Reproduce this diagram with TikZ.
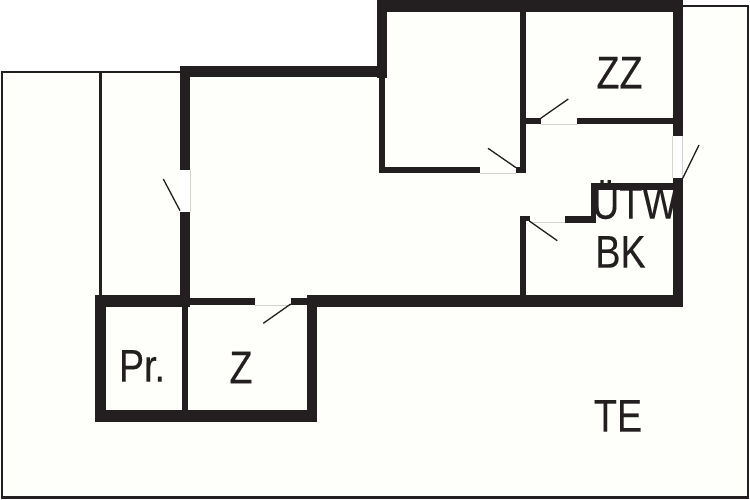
\documentclass[tikz,border=0pt]{standalone}
\usepackage{fontspec}
\setmainfont[FakeBold=0.2]{Liberation Sans}
\definecolor{paper}{HTML}{FEFEFA}
\definecolor{ink}{HTML}{231F20}
\definecolor{sill}{HTML}{D4D4CE}
\tikzset{
  px/.style={x=1pt,y=-1pt},
  wall/.style={fill=ink,draw=none},
  outline/.style={draw=ink,line width=2.6pt,line join=miter},
  leaf/.style={draw=ink,line width=1.3pt},
  sillline/.style={draw=sill,line width=0.8pt},
  roomlabel/.style={text=ink,font=\fontsize{46}{46}\selectfont,xscale=0.82,inner sep=0pt,anchor=base},
}
\begin{document}
\begin{tikzpicture}[px]
\useasboundingbox (0,0) rectangle (750,500);
\fill[white] (0,0) rectangle (750,500);
% site
\fill[paper] (2,72) -- (383,72) -- (383,6) -- (748,6) -- (748,497.5) -- (2,497.5) -- cycle;
\draw[outline] (180,72) -- (2,72) -- (2,497.5) -- (748,497.5) -- (748,6) -- (683,6);
\draw[outline] (100.5,72) -- (100.5,296);
% labels (beneath the walls)
\node[roomlabel] (zz) at (619.5,88.5) {ZZ};
\node[roomlabel] (utw) at (635,218.7) {ÜTW};
\node[roomlabel] (bk) at (620.5,267.7) {BK};
\node[roomlabel] (pr) at (142,381.7) {Pr.};
\node[roomlabel] (z) at (241,383.3) {Z};
\node[roomlabel] (te) at (618,431.7) {TE};
% door sills
\draw[sillline] (480,173) -- (516,173);
\draw[sillline] (540.7,124.5) -- (576.7,124.5);
\draw[sillline] (530,222.7) -- (565,222.7);
\draw[sillline] (255,305) -- (291,305);
\draw[sillline] (672.5,136) -- (672.5,178) (682.7,136) -- (682.7,178);
\draw[sillline] (180,170) -- (180,211.7) (190,170) -- (190,211.7);
\fill[white] (673,136.5) rectangle (682.3,178);
\fill[white] (180.4,170) rectangle (189.6,211.7);
% heavy walls
\fill[wall] (377,0) rectangle (683,12.3);
\fill[wall] (377,0) rectangle (387,78);
\fill[wall] (180,66) rectangle (387,77.3);
\fill[wall] (180,66) rectangle (190,170);
\fill[wall] (180,211.7) rectangle (190,307);
\fill[wall] (672.7,0) rectangle (682.7,136);
\fill[wall] (672.7,178) rectangle (682.7,306.7);
\fill[wall] (306.7,295) rectangle (682.7,306.7);
\fill[wall] (95,295) rectangle (190,307.3);
\fill[wall] (95,295) rectangle (105.7,422.3);
\fill[wall] (95,410) rectangle (316.7,422.3);
\fill[wall] (306.7,295) rectangle (316.7,422.3);
% thin walls
\fill[wall] (379.3,77) rectangle (385.3,173.3);
\fill[wall] (379.3,166.7) rectangle (480,173.3);
\fill[wall] (516,166.7) rectangle (525.7,173.3);
\fill[wall] (520,12) rectangle (525.7,173.3);
\fill[wall] (520,117.7) rectangle (540.7,124.3);
\fill[wall] (576.7,117.7) rectangle (672.7,124.3);
\fill[wall] (590.7,183.3) rectangle (672.7,190);
\fill[wall] (590.7,183.3) rectangle (596,222.7);
\fill[wall] (565,216) rectangle (596,222.7);
\fill[wall] (520,216) rectangle (525.7,296);
\fill[wall] (520,216) rectangle (530,221);
\fill[wall] (190,298.3) rectangle (255,305);
\fill[wall] (290.7,298.3) rectangle (306.7,305);
\fill[wall] (182.3,307) rectangle (187.7,410);
% door leaves
\coordinate (d1a) at (516,167.7); \coordinate (d1b) at (488,148.3);
\coordinate (d2a) at (540.7,118.3); \coordinate (d2b) at (568.3,99);
\coordinate (d3a) at (682.7,178.3); \coordinate (d3b) at (699,145);
\coordinate (d4a) at (529.3,221); \coordinate (d4b) at (557.3,240.7);
\coordinate (d5a) at (290.7,304); \coordinate (d5b) at (263.3,323.3);
\coordinate (d6a) at (180,210.7); \coordinate (d6b) at (163.3,179);
\draw[leaf] (d1a) -- (d1b);
\draw[leaf] (d2a) -- (d2b);
\draw[leaf] (d3a) -- (d3b);
\draw[leaf] (d4a) -- (d4b);
\draw[leaf] (d5a) -- (d5b);
\draw[leaf] (d6a) -- (d6b);
\end{tikzpicture}
\end{document}
